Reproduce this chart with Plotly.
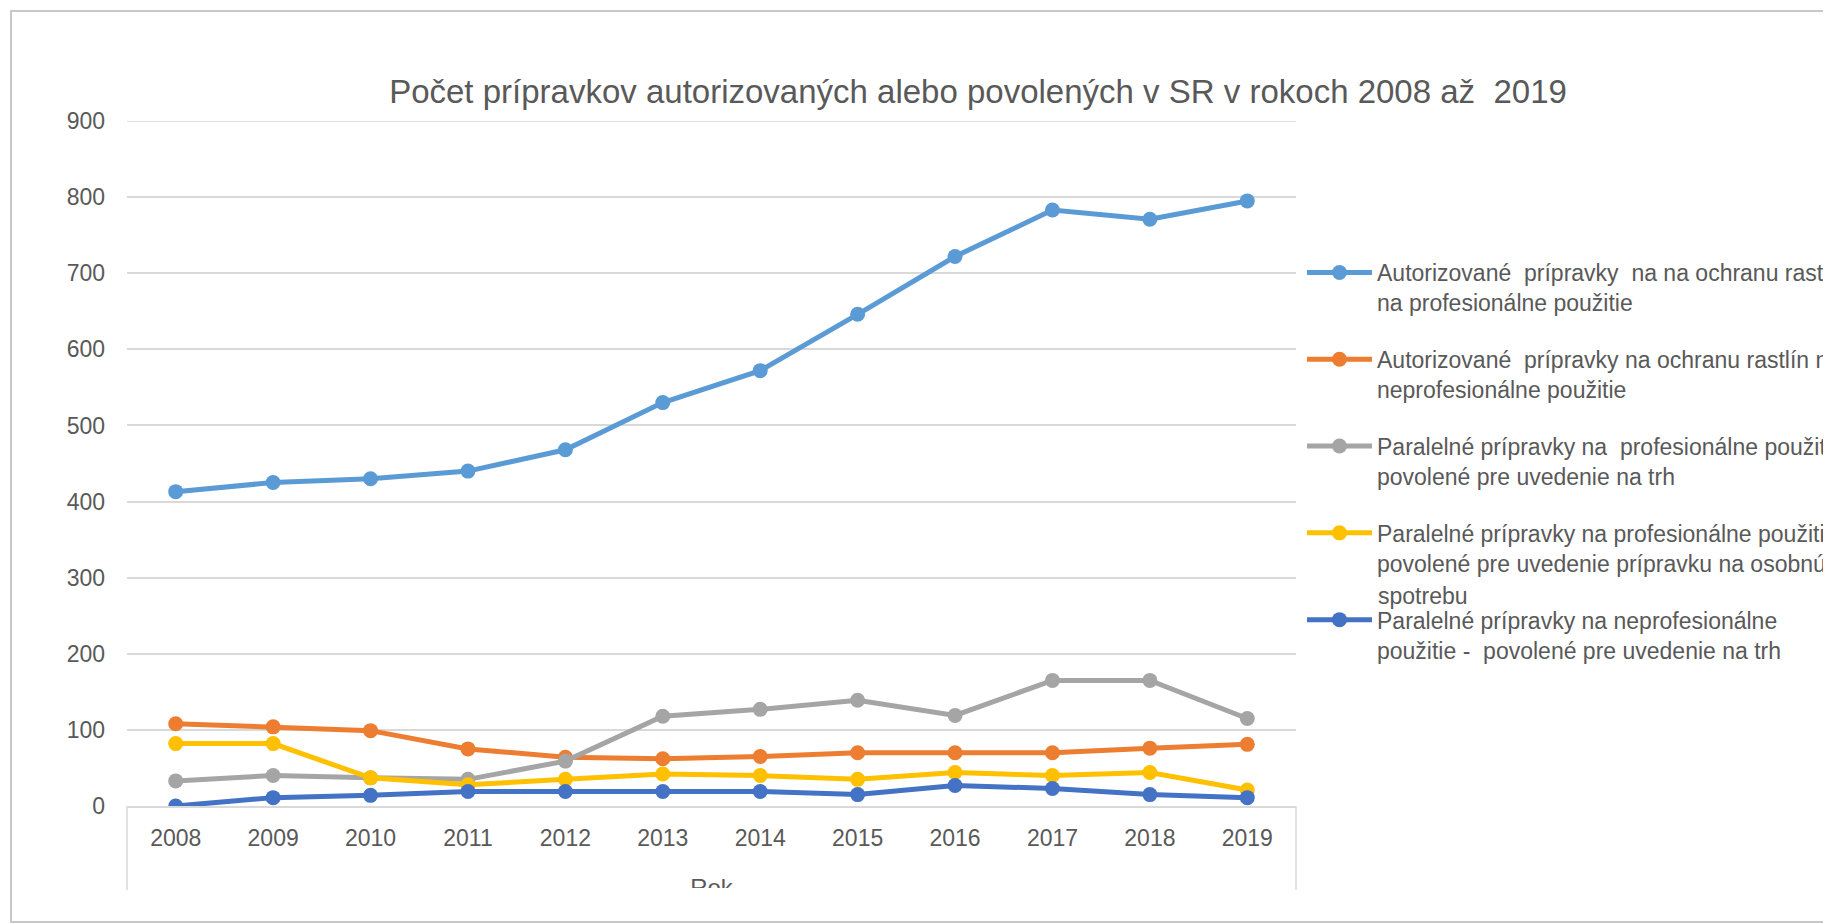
import plotly.graph_objects as go

# Roky (kategórie na osi x)
years = ["2008", "2009", "2010", "2011", "2012", "2013",
         "2014", "2015", "2016", "2017", "2018", "2019"]

# Počty prípravkov (odčítané z grafu)
auth_prof = [413, 425, 430, 440, 468, 530, 572, 646, 722, 783, 771, 795]
auth_neprof = [108, 104, 99, 75, 64, 62, 65, 70, 70, 70, 76, 81]
par_prof = [33, 40, 37, 35, 59, 118, 127, 139, 119, 165, 165, 115]
par_prof_osob = [82, 82, 37, 28, 35, 42, 40, 35, 44, 40, 44, 21]
par_neprof = [0, 11, 14, 19, 19, 19, 19, 15, 27, 23, 15, 11]

series_names = [
    "Autorizované  prípravky  na na ochranu rastlín<br>na profesionálne použitie",
    "Autorizované  prípravky na ochranu rastlín na<br>neprofesionálne použitie",
    "Paralelné prípravky na  profesionálne použitie<br>povolené pre uvedenie na trh",
    "Paralelné prípravky na profesionálne použitie<br>povolené pre uvedenie prípravku na osobnú",
    "Paralelné prípravky na neprofesionálne<br>použitie -  povolené pre uvedenie na trh",
]
overflow_text = "spotrebu"  # tretí riadok 4. položky legendy, ktorý v origináli pretečie
series_values = [auth_prof, auth_neprof, par_prof, par_prof_osob, par_neprof]
colors = ["#5B9BD5", "#ED7D31", "#A5A5A5", "#FFC000", "#4472C4"]

title_text = "Počet prípravkov autorizovaných alebo povolených v SR v rokoch 2008 až  2019"
axis_title = "Rok"

FONT = "Liberation Sans, Arial, sans-serif"
TXT = "#595959"
GRID = "#D9D9D9"
LEG_SIZE = 23

# stránka má okraj 8 px, preto je graf o 8 px menší a súradnice sa posúvajú
OFF = 8
W, H = 1823, 916
L, R, T, B = 119, 535, 113, 34
PW, PH = W - L - R, H - T - B


def px_x(p):
    return (p - OFF - L) / PW


def px_y(p):
    return (H - B - (p - OFF)) / PH


fig = go.Figure()
for name, vals, col in zip(series_names, series_values, colors):
    fig.add_trace(go.Scatter(
        x=years, y=vals, name=name, mode="lines+markers",
        line=dict(color=col, width=5),
        marker=dict(color=col, size=15),
        legendgroup=name,
    ))

# názov osi x, orezaný ako v pôvodnom obrázku
fig.add_trace(go.Scatter(
    x=[0.5], y=[-0.03], text=[axis_title], mode="text",
    textfont=dict(family=FONT, size=24, color=TXT),
    xaxis="x2", yaxis="y2", cliponaxis=True, showlegend=False,
    hoverinfo="skip",
))

y_bottom = px_y(806)
fig.update_layout(
    width=W, height=H,
    margin=dict(l=L, r=R, t=T, b=B, autoexpand=False),
    paper_bgcolor="white", plot_bgcolor="white",
    font=dict(family=FONT, color=TXT, size=24),
    title=dict(text=title_text, x=(978 - OFF) / W, xanchor="center",
               y=1 - (91 - OFF) / H, yanchor="middle",
               font=dict(family=FONT, size=33, color=TXT)),
    xaxis=dict(domain=[0, 1], type="category", range=[-0.5, 11.5],
               showgrid=False, showline=True, linecolor=GRID, linewidth=1.5,
               ticks="", tickfont=dict(size=23, color=TXT),
               ticklabelstandoff=11, anchor="y"),
    yaxis=dict(domain=[y_bottom, 1], range=[0, 900], dtick=100,
               showgrid=True, gridcolor=GRID, gridwidth=1.5,
               zeroline=False, showline=False, ticks="",
               tickfont=dict(size=23, color=TXT), ticklabelstandoff=21),
    xaxis2=dict(domain=[0, 1], range=[0, 1], visible=False, anchor="y2"),
    yaxis2=dict(domain=[px_y(888), y_bottom], range=[0, 1], visible=False,
                anchor="x2"),
    legend=dict(x=px_x(1302), xanchor="left", y=px_y(251), yanchor="top",
                valign="top", tracegroupgap=24, itemwidth=65,
                font=dict(family=FONT, size=LEG_SIZE, color=TXT),
                bgcolor="rgba(0,0,0,0)"),
    showlegend=True,
)

# horná mriežka na 900
fig.add_shape(type="line", xref="paper", yref="y", x0=0, x1=1, y0=900, y1=900,
              line=dict(color=GRID, width=1.5), layer="below")

# rámček okolo oblasti popisu osi x
for xe in (0, 1):
    fig.add_shape(type="line", xref="paper", yref="paper",
                  x0=xe, x1=xe, y0=px_y(890), y1=y_bottom,
                  line=dict(color=GRID, width=1.5))

# vonkajší rámček grafu
fig.add_shape(type="rect", xref="paper", yref="paper",
              x0=px_x(11), x1=px_x(1860), y0=px_y(922), y1=px_y(11),
              line=dict(color="#C8C8C8", width=2), layer="below")

fig.add_annotation(text=overflow_text, xref="paper", yref="paper",
                   x=px_x(1376), y=px_y(596), xanchor="left", yanchor="middle",
                   showarrow=False,
                   font=dict(family=FONT, size=LEG_SIZE, color=TXT))

fig.write_html("out.html")
